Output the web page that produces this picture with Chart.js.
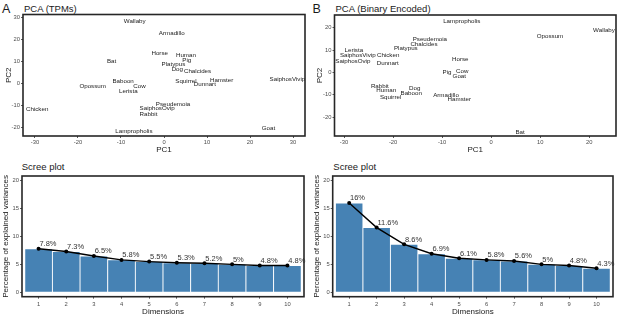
<!DOCTYPE html>
<html>
<head>
<meta charset="utf-8">
<script src="https://cdn.jsdelivr.net/npm/chart.js@4.4.0/dist/chart.umd.min.js"></script>
<style>
  body { margin: 0; background: #fff; width: 617px; height: 315px; overflow: hidden; position: relative;
         font-family: "Liberation Sans", Arial, sans-serif; }
  canvas { position: absolute; }
  .lbl { position: absolute; line-height: 1; white-space: nowrap; color: #1a1a1a; }
</style>
</head>
<body>
<div class="lbl" style="left:2px;top:2.7px;font-size:12.5px">A</div>
<div class="lbl" style="left:24px;top:3.8px;font-size:9.5px">PCA (TPMs)</div>
<div class="lbl" style="left:312.5px;top:2.7px;font-size:12.5px">B</div>
<div class="lbl" style="left:335.5px;top:3.8px;font-size:9.5px">PCA (Binary Encoded)</div>
<div class="lbl" style="left:21.7px;top:162px;font-size:9.5px">Scree plot</div>
<div class="lbl" style="left:333.3px;top:162px;font-size:9.5px">Scree plot</div>

<canvas id="pcaA" width="310" height="155" style="left:0;top:0"></canvas>
<canvas id="pcaB" width="307" height="155" style="left:310px;top:0"></canvas>
<canvas id="screeA" width="310" height="162" style="left:0;top:155px"></canvas>
<canvas id="screeB" width="307" height="162" style="left:310px;top:155px"></canvas>

<script>
// species shown in both PCA plots
const species = ["Wallaby", "Armadillo", "Horse", "Human", "Pig", "Platypus", "Dog", "Chalcides",
  "Bat", "Baboon", "Cow", "Lerista", "Opossum", "Squirrel", "Dunnart", "Hamster", "SaiphosVivip",
  "Pseudemoia", "SaiphosOvip", "Rabbit", "Chicken", "Lampropholis", "Goat"];

// A: PCA on TPMs
const tpmPC1 = [-6.8, 1.8, -1.0, 5.1, 5.3, 2.2, 3.1, 7.8, -12.2, -9.5, -5.7, -8.3, -16.6, 5.1, 9.5, 13.4, 28.7,
  2.1, -1.6, -3.6, -29.5, -7.0, 24.3];
const tpmPC2 = [28.3, 22.9, 13.6, 12.7, 10.3, 8.8, 6.4, 5.6, 9.8, 1.1, -1.2, -3.6, -1.2, 1.1, -0.6, 1.2, 1.7,
  -9.5, -11.5, -14.2, -11.8, -21.7, -20.6];

// B: PCA on binary encoded data
const binPC1 = [23.0, -9.2, -6.3, -21.4, -9.0, -17.4, -15.6, -13.7, 5.9, -16.3, -5.9, -28.0, 12.0, -20.5, -21.1,
  -6.5, -27.2, -12.5, -28.2, -22.7, -21.0, -6.0, -6.5];
const binPC2 = [19.0, -10.1, 6.0, -8.0, 0.0, 10.9, -7.0, 12.8, -26.6, -9.2, 0.6, 9.8, 16.1, -11.0, 3.9,
  -12.1, 7.6, 15.0, 5.1, -6.0, 7.6, 22.9, -1.8];

// scree plots
const dims = [1, 2, 3, 4, 5, 6, 7, 8, 9, 10];
const screeTPM = [7.8, 7.3, 6.5, 5.8, 5.5, 5.3, 5.2, 5, 4.8, 4.8];
const screeBin = [16, 11.6, 8.6, 6.9, 6.1, 5.8, 5.6, 5, 4.8, 4.3];

const FONT = '"Liberation Sans", Arial, sans-serif';
Chart.defaults.font.family = FONT;

const frame = {
  id: 'frame',
  afterDraw(chart) {
    const { ctx, chartArea: a } = chart;
    ctx.save();
    ctx.strokeStyle = '#262626';
    ctx.lineWidth = 1.6;
    ctx.strokeRect(a.left, a.top, a.right - a.left, a.bottom - a.top);
    ctx.restore();
  }
};

// species names drawn at each point (like geom_text)
const pointNames = {
  id: 'pointNames',
  afterDatasetsDraw(chart) {
    const ctx = chart.ctx;
    ctx.save();
    ctx.font = '6.2px ' + FONT;
    ctx.fillStyle = '#1a1a1a';
    ctx.textAlign = 'center';
    ctx.textBaseline = 'middle';
    chart.getDatasetMeta(0).data.forEach((pt, i) => {
      ctx.fillText(species[i], pt.x, pt.y);
    });
    ctx.restore();
  }
};

// percent labels above the scree line points
const pctLabels = {
  id: 'pctLabels',
  afterDatasetsDraw(chart) {
    const ctx = chart.ctx;
    const vals = chart.data.datasets[0].data;
    ctx.save();
    ctx.font = '7.5px ' + FONT;
    ctx.fillStyle = '#333';
    ctx.textAlign = 'left';
    ctx.textBaseline = 'alphabetic';
    chart.getDatasetMeta(0).data.forEach((pt, i) => {
      ctx.fillText(vals[i].y + '%', pt.x + 0.8, pt.y - 2.7);
    });
    ctx.restore();
  }
};

const tickFont = { size: 5.8 };
const gridStyle = { display: true, drawOnChartArea: false, drawTicks: true, tickLength: 2, color: '#333', lineWidth: 0.8 };
const titleStyle = (text, pad) => ({ display: true, text: text, color: '#1a1a1a', font: { size: 8 }, padding: pad });

function pcaChart(id, pc1, pc2, xr, yr, yWidth, pad, yTitlePad) {
  new Chart(document.getElementById(id), {
    type: 'scatter',
    data: {
      datasets: [{
        data: species.map((s, i) => ({ x: pc1[i], y: pc2[i] })),
        pointRadius: 0,
        pointHoverRadius: 0
      }]
    },
    options: {
      responsive: false,
      animation: false,
      devicePixelRatio: 1,
      layout: { padding: pad },
      plugins: { legend: { display: false }, tooltip: { enabled: false } },
      scales: {
        x: {
          min: xr[0], max: xr[1],
          ticks: { stepSize: 10, includeBounds: false, autoSkip: false, maxRotation: 0, padding: 1.2, color: '#4d4d4d', font: tickFont },
          grid: gridStyle,
          border: { display: false },
          title: titleStyle('PC1', { top: 0, bottom: 0 }),
          afterFit: s => { s.height = 19; }
        },
        y: {
          min: yr[0], max: yr[1],
          ticks: { stepSize: 10, includeBounds: false, autoSkip: false, padding: 1, color: '#4d4d4d', font: tickFont },
          grid: gridStyle,
          border: { display: false },
          title: titleStyle('PC2', { top: yTitlePad, bottom: 0 }),
          afterFit: s => { s.width = yWidth; }
        }
      }
    },
    plugins: [pointNames, frame]
  });
}

function screeChart(id, vals, yWidth, pad, yTitlePad) {
  const pts = dims.map((d, i) => ({ x: d, y: vals[i] }));
  new Chart(document.getElementById(id), {
    type: 'bar',
    data: {
      datasets: [
        {
          type: 'line', data: pts, order: 0,
          borderColor: '#000', borderWidth: 1.4,
          pointRadius: 2, pointBackgroundColor: '#000', pointBorderWidth: 0
        },
        {
          type: 'bar', data: pts, order: 1,
          backgroundColor: '#4682B4', borderColor: '#fff', borderWidth: 0.8,
          categoryPercentage: 1, barPercentage: 1
        }
      ]
    },
    options: {
      responsive: false,
      animation: false,
      devicePixelRatio: 1,
      layout: { padding: pad },
      plugins: { legend: { display: false }, tooltip: { enabled: false } },
      scales: {
        x: {
          type: 'linear', min: 0.4, max: 10.6, offset: false,
          ticks: { stepSize: 1, includeBounds: false, autoSkip: false, maxRotation: 0, padding: 2, color: '#4d4d4d', font: tickFont },
          grid: Object.assign({}, gridStyle, { offset: false }),
          border: { display: false },
          title: titleStyle('Dimensions', { top: 0, bottom: 0 }),
          afterFit: s => { s.height = 20.3; }
        },
        y: {
          min: -0.8, max: 20.85,
          ticks: { stepSize: 5, includeBounds: false, autoSkip: false, padding: 1, color: '#4d4d4d', font: tickFont },
          grid: gridStyle,
          border: { display: false },
          title: titleStyle('Percentage of explained variances', { top: yTitlePad, bottom: 0 }),
          afterFit: s => { s.width = yWidth; }
        }
      }
    },
    plugins: [pctLabels, frame]
  });
}

pcaChart('pcaA', tpmPC1, tpmPC2, [-32.79, 32.79], [-23.95, 31.27], 23, { top: 14.5, right: 5, left: 0, bottom: 0 }, 3.5);
pcaChart('pcaB', binPC1, binPC2, [-31.94, 25.45], [-28.35, 25.67], 24.5, { top: 15, right: 1, left: 0, bottom: 0 }, 4.5);
screeChart('screeA', screeTPM, 22, { top: 21, right: 6, left: 0, bottom: 0 }, 1.2);
screeChart('screeB', screeBin, 22.7, { top: 21, right: 0.7, left: 0, bottom: 0 }, 1.9);
</script>
</body>
</html>
